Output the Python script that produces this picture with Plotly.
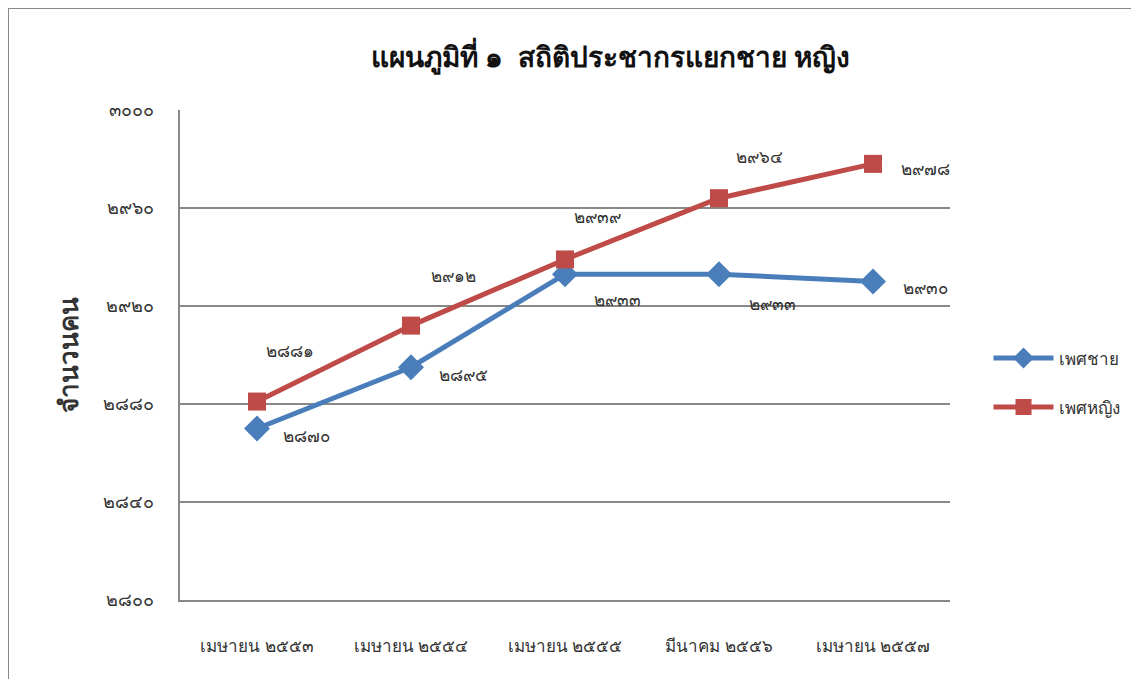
import plotly.graph_objects as go

categories = ["เมษายน ๒๕๕๓", "เมษายน ๒๕๕๔", "เมษายน ๒๕๕๕", "มีนาคม ๒๕๕๖", "เมษายน ๒๕๕๗"]
male = [2870, 2895, 2933, 2933, 2930]
female = [2881, 2912, 2939, 2964, 2978]
y_ticks = [2800, 2840, 2880, 2920, 2960, 3000]

# label offsets (pixels) for data labels
male_shift = [(49, -7), (52, -7), (52, -25), (53, -29), (52, -6)]
female_shift = [(33, 51), (42, 50), (32, 43), (40, 42), (52, -5)]

TH = str.maketrans("0123456789", "๐๑๒๓๔๕๖๗๘๙")
def th(n):
    return str(n).translate(TH)

FONT = "Tahoma, 'Noto Sans', sans-serif"
BLUE = "#4a7ebb"
RED = "#be4b48"
TXT = "#333"

fig = go.Figure()
fig.add_trace(go.Scatter(x=categories, y=male, name="เพศชาย", mode="lines+markers",
                         legendgroup="m",
                         line=dict(color=BLUE, width=5),
                         marker=dict(symbol="diamond", size=20, color=BLUE)))
fig.add_trace(go.Scatter(x=categories, y=female, name="เพศหญิง", mode="lines+markers",
                         legendgroup="f",
                         line=dict(color=RED, width=5),
                         marker=dict(symbol="square", size=18, color=RED)))

anns = []
for c, v, (dx, dy) in zip(categories, male, male_shift):
    anns.append(dict(x=c, y=v, text=th(v), showarrow=False, xshift=dx, yshift=dy,
                     font=dict(size=17, color=TXT, family=FONT)))
for c, v, (dx, dy) in zip(categories, female, female_shift):
    anns.append(dict(x=c, y=v, text=th(v), showarrow=False, xshift=dx, yshift=dy,
                     font=dict(size=17, color=TXT, family=FONT)))

fig.update_layout(
    width=1139, height=679,
    margin=dict(l=172, r=197, t=102, b=87),
    paper_bgcolor="white", plot_bgcolor="white",
    font=dict(family=FONT, color=TXT),
    title=dict(text="<b>แผนภูมิที่ ๑  สถิติประชากรแยกชาย หญิง</b>", x=0.529, xanchor="center",
               y=0.927, yanchor="middle", font=dict(size=28, color="#111", family=FONT)),
    xaxis=dict(type="category", range=[-0.5, 4.5], showgrid=False, showline=True,
               linecolor="#888", linewidth=2, ticks="", tickfont=dict(size=17, family=FONT),
               ticklabelstandoff=30),
    yaxis=dict(range=[2800, 3000], tickvals=y_ticks, ticktext=[th(t) for t in y_ticks],
               showgrid=True, gridcolor="#888", gridwidth=2, showline=True, linecolor="#888",
               linewidth=2, ticks="", tickfont=dict(size=18, family=FONT),
               ticklabelstandoff=20, zeroline=False,
               title=dict(text="<b>จำนวนคน</b>", font=dict(size=26, family=FONT), standoff=17)),
    legend=dict(x=1.05, y=0.443, xanchor="left", yanchor="middle", tracegroupgap=24,
                font=dict(size=17, family=FONT), itemwidth=60),
    annotations=anns,
    shapes=[dict(type="rect", xref="paper", yref="paper",
                 x0=-172 / 770, x1=(1150 - 172) / 770,
                 y0=-100 / 490, y1=(592 - 0) / 490,
                 line=dict(color="#888", width=2), layer="below")],
)
fig.write_html("out.html")
